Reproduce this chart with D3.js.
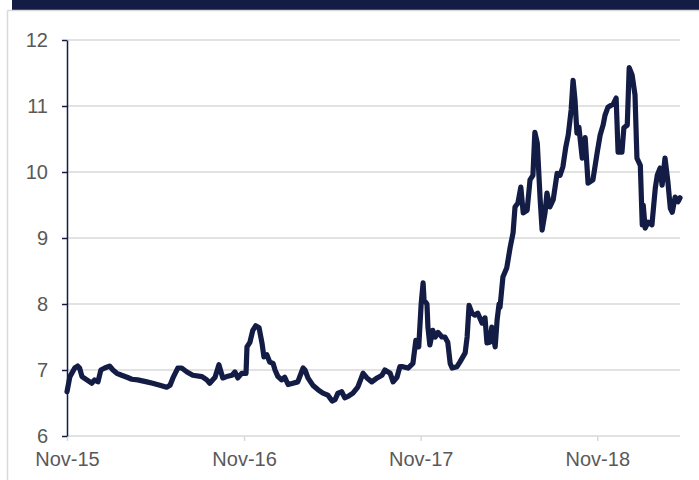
<!DOCTYPE html>
<html>
<head>
<meta charset="utf-8">
<script src="https://cdn.jsdelivr.net/npm/d3@7"></script>
<style>
  html, body { margin: 0; padding: 0; background: #fff; }
  svg { display: block; }
</style>
</head>
<body>
<svg id="chart" width="699" height="480"></svg>
<script>
// ---- data ----
const dates = [
  "2015-11-01","2015-11-07","2015-11-17","2015-11-23","2015-11-27","2015-12-02","2015-12-12","2015-12-22","2015-12-28",
  "2016-01-04","2016-01-10","2016-01-18","2016-01-28","2016-02-04","2016-02-12","2016-02-22","2016-03-04","2016-03-14","2016-03-26",
  "2016-04-14","2016-04-26","2016-05-11","2016-05-25","2016-06-01","2016-06-07","2016-06-17","2016-06-25","2016-07-06","2016-07-18",
  "2016-08-06","2016-08-16","2016-08-22","2016-09-02","2016-09-10","2016-09-18","2016-09-26","2016-10-07","2016-10-13","2016-10-19",
  "2016-10-27","2016-11-05","2016-11-07","2016-11-13","2016-11-19","2016-11-25","2016-12-02","2016-12-08","2016-12-12","2016-12-18",
  "2016-12-24","2016-12-31","2017-01-04","2017-01-10","2017-01-18","2017-01-24","2017-01-31","2017-02-10","2017-02-20","2017-03-03",
  "2017-03-07","2017-03-13","2017-03-23","2017-04-03","2017-04-13","2017-04-23","2017-05-02","2017-05-08","2017-05-14","2017-05-22",
  "2017-05-28","2017-06-04","2017-06-14","2017-06-24","2017-07-05","2017-07-13","2017-07-23","2017-08-03","2017-08-13","2017-08-19",
  "2017-08-30","2017-09-05","2017-09-13","2017-09-19","2017-09-25","2017-10-06","2017-10-16","2017-10-22","2017-10-28","2017-11-02",
  "2017-11-06","2017-11-08","2017-11-14","2017-11-16","2017-11-20","2017-11-26","2017-12-01","2017-12-07","2017-12-15","2017-12-21",
  "2017-12-27","2018-01-01","2018-01-05","2018-01-15","2018-01-21","2018-02-01","2018-02-05","2018-02-09","2018-02-15","2018-02-21",
  "2018-02-27","2018-03-08","2018-03-14","2018-03-18","2018-03-24","2018-03-28","2018-04-04","2018-04-08","2018-04-12","2018-04-14",
  "2018-04-20","2018-04-28","2018-05-05","2018-05-11","2018-05-15","2018-05-21","2018-05-27","2018-06-01","2018-06-09","2018-06-15",
  "2018-06-21","2018-06-25","2018-06-30","2018-07-06","2018-07-10","2018-07-16","2018-07-20","2018-07-26","2018-08-02","2018-08-10",
  "2018-08-16","2018-08-22","2018-08-28","2018-09-02","2018-09-08","2018-09-12","2018-09-16","2018-09-20","2018-09-24","2018-10-01",
  "2018-10-07","2018-10-13","2018-10-23","2018-11-01","2018-11-07","2018-11-13","2018-11-17","2018-11-23","2018-12-04","2018-12-10",
  "2018-12-14","2018-12-22","2018-12-26","2019-01-02","2019-01-06","2019-01-12","2019-01-18","2019-01-22","2019-01-29","2019-02-02",
  "2019-02-04","2019-02-08","2019-02-14","2019-02-22","2019-03-01","2019-03-05","2019-03-11","2019-03-15","2019-03-21","2019-03-27",
  "2019-04-01","2019-04-05","2019-04-11","2019-04-17","2019-04-21"
];
const values = [
  6.67,6.90,7.03,7.06,7.03,6.90,6.85,6.80,6.85,
  6.82,7.00,7.03,7.06,7.00,6.95,6.92,6.89,6.86,6.85,
  6.82,6.80,6.77,6.74,6.77,6.88,7.03,7.03,6.97,6.92,
  6.90,6.85,6.80,6.89,7.08,6.88,6.90,6.92,6.97,6.88,
  6.95,6.95,7.35,7.42,7.60,7.67,7.64,7.41,7.20,7.23,
  7.12,7.10,7.00,6.90,6.85,6.89,6.78,6.80,6.82,7.03,
  7.00,6.88,6.77,6.70,6.65,6.62,6.53,6.55,6.65,6.67,
  6.58,6.60,6.65,6.74,6.95,6.88,6.82,6.88,6.92,7.00,
  6.95,6.82,6.89,7.05,7.05,7.03,7.10,7.45,7.35,8.00,
  8.32,8.06,8.00,7.65,7.38,7.60,7.50,7.57,7.50,7.50,
  7.42,7.10,7.03,7.05,7.12,7.26,7.50,7.98,7.86,7.83,
  7.86,7.71,7.79,7.41,7.42,7.65,7.35,7.76,8.00,7.95,
  8.41,8.55,8.86,9.08,9.47,9.53,9.77,9.38,9.42,9.88,
  9.95,10.60,10.44,9.58,9.12,9.38,9.68,9.47,9.58,9.98,
  9.95,10.08,10.38,10.56,10.94,11.39,11.09,10.59,10.68,10.21,
  10.52,9.83,9.88,10.30,10.56,10.71,10.86,10.98,11.03,11.12,
  10.30,10.30,10.67,10.71,11.58,11.47,11.17,10.21,10.10,9.20,
  9.50,9.15,9.24,9.20,9.76,9.95,10.06,9.80,10.21,9.85,
  9.45,9.39,9.62,9.55,9.61
];
const xTickDates = ["2015-11-01","2016-11-01","2017-11-01","2018-11-01"];
const yTicks = [6, 7, 8, 9, 10, 11, 12];
const xDomain = ["2015-11-01","2019-04-21"];
const yDomain = [6, 12];

// ---- drawing ----
const parse = d3.timeParse("%Y-%m-%d");
const fmt = d3.timeFormat("%b-%y");
const data = dates.map((d, i) => ({ date: parse(d), value: values[i] }));

const svg = d3.select("#chart");
const W = 699, H = 480;
const navy = "#131c44";
const gridColor = "#d9d9d9";
const labelColor = "#595959";
const fontFam = "Liberation Sans, Arial, sans-serif";

const m = { left: 67, right: 680, top: 40, bottom: 436 };

// frame
svg.append("rect").attr("x", 12).attr("y", 0).attr("width", W - 12).attr("height", 10).attr("fill", navy);
svg.append("line").attr("x1", 7.5).attr("x2", W).attr("y1", 10.5).attr("y2", 10.5).attr("stroke", gridColor).attr("stroke-width", 1.5);
svg.append("line").attr("x1", 7.5).attr("x2", 7.5).attr("y1", 10.5).attr("y2", H).attr("stroke", gridColor).attr("stroke-width", 1.5);

const x = d3.scaleTime().domain(xDomain.map(parse)).range([m.left, m.right]);
const y = d3.scaleLinear().domain(yDomain).range([m.bottom, m.top]);

// gridlines
svg.append("g").selectAll("line").data(yTicks).join("line")
  .attr("x1", m.left).attr("x2", m.right)
  .attr("y1", d => y(d)).attr("y2", d => y(d))
  .attr("stroke", gridColor).attr("stroke-width", 1.5);

// x axis
const xAxis = svg.append("g").attr("transform", `translate(0,${m.bottom})`)
  .call(d3.axisBottom(x).tickValues(xTickDates.map(parse)).tickFormat(fmt).tickSize(5).tickPadding(11));
xAxis.select(".domain").remove();
xAxis.selectAll(".tick line").attr("stroke", gridColor).attr("stroke-width", 1.5);
xAxis.selectAll(".tick text")
  .attr("fill", labelColor).attr("font-family", fontFam).attr("font-size", "20px");

// y axis
const yAxis = svg.append("g").attr("transform", `translate(${m.left},0)`)
  .call(d3.axisLeft(y).tickValues(yTicks).tickFormat(d3.format("d")).tickSize(5).tickSizeOuter(0).tickPadding(14));
yAxis.select(".domain").attr("stroke", navy).attr("stroke-width", 1.5);
yAxis.selectAll(".tick line").attr("stroke", navy).attr("stroke-width", 1.5);
yAxis.selectAll(".tick text")
  .attr("fill", labelColor).attr("font-family", fontFam).attr("font-size", "20px");

// line
const line = d3.line().x(d => x(d.date)).y(d => y(d.value)).curve(d3.curveLinear);
svg.append("path").datum(data)
  .attr("d", line)
  .attr("fill", "none")
  .attr("stroke", navy)
  .attr("stroke-width", 5.2)
  .attr("stroke-linejoin", "round")
  .attr("stroke-linecap", "round");
</script>
</body>
</html>
